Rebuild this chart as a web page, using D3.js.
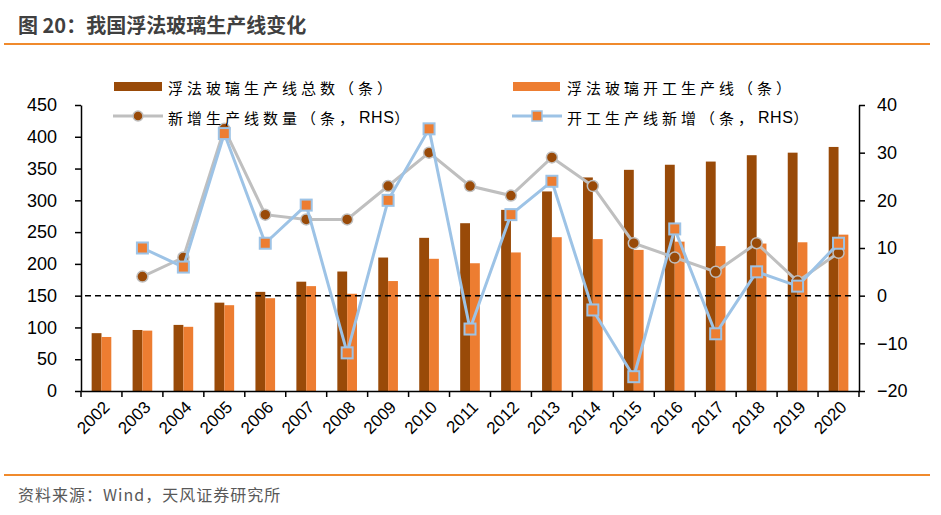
<!DOCTYPE html>
<html><head><meta charset="utf-8">
<script src="https://cdn.jsdelivr.net/npm/d3@7"></script>
<style>body{margin:0;background:#fff;}svg{display:block;}</style>
</head><body>
<svg id="c" width="941" height="515"></svg>
<script>
const years = ["2002","2003","2004","2005","2006","2007","2008","2009","2010","2011","2012","2013","2014","2015","2016","2017","2018","2019","2020"];
const totalLines = [91,96,104,139,156,172,188,210,241,264,285,314,336,348,356,361,371,375,384];
const activeLines = [85,95,101,135,146,165,153,173,208,201,218,242,239,222,235,228,232,234,246];
const newLines = [null,4,8,35,17,16,16,23,30,23,21,29,23,11,8,5,11,3,9];
const newActive = [null,10,6,34,11,19,-12,20,35,-7,17,24,-3,-17,14,-8,5,2,11];
const leftTicks = [0,50,100,150,200,250,300,350,400,450];
const rightTicks = [-20,-10,0,10,20,30,40];

const C = {dark:"#994A08", orange:"#ED7D31", grey:"#BFBFBF", blue:"#9DC3E6", accent:"#F08A2C"};
const svg = d3.select("#c");
const L = 81, R = 859, T = 105, B = 391;
const cjk = "'Noto Sans CJK SC','Noto Sans',sans-serif";
const num = "'Liberation Sans',Arial,sans-serif";

// title
svg.append("text").attr("x",18).attr("y",33).attr("font-family",cjk).attr("font-weight","bold")
  .attr("font-size",20).attr("fill","#404040").text("图 20：我国浮法玻璃生产线变化");
svg.append("line").attr("x1",4).attr("x2",930).attr("y1",44).attr("y2",44).attr("stroke",C.accent).attr("stroke-width",2);
svg.append("line").attr("x1",4).attr("x2",930).attr("y1",475).attr("y2",475).attr("stroke",C.accent).attr("stroke-width",2);
svg.append("text").attr("x",18).attr("y",501).attr("font-family",cjk).attr("font-size",16)
  .attr("letter-spacing",1).attr("fill","#595959").text("资料来源：Wind，天风证券研究所");

const x = d3.scaleBand().domain(years).range([L,R]).padding(0);
const bw = x.bandwidth();
const x1 = d3.scaleBand().domain(["t","a"]).range([bw*0.26,bw*0.74]).padding(0);
const yL = d3.scaleLinear().domain([0,450]).range([B,T]);
const yR = d3.scaleLinear().domain([-20,40]).range([B,T]);

// bars
const g = svg.append("g");
g.selectAll(".bt").data(years).join("rect")
  .attr("x",d=>x(d)+x1("t")).attr("width",x1.bandwidth())
  .attr("y",(d,i)=>yL(totalLines[i])).attr("height",(d,i)=>B-yL(totalLines[i])).attr("fill",C.dark);
g.selectAll(".ba").data(years).join("rect")
  .attr("x",d=>x(d)+x1("a")).attr("width",x1.bandwidth())
  .attr("y",(d,i)=>yL(activeLines[i])).attr("height",(d,i)=>B-yL(activeLines[i])).attr("fill",C.orange);

// dashed zero line
svg.append("line").attr("x1",L+4).attr("x2",R-4).attr("y1",yR(0)).attr("y2",yR(0))
  .attr("stroke","#000").attr("stroke-width",1.5).attr("stroke-dasharray","6,4");

// axes
const axL = svg.append("g").attr("transform",`translate(${L},0)`)
  .call(d3.axisLeft(yL).tickValues(leftTicks).tickSize(6).tickPadding(18).tickSizeOuter(0));
const axR = svg.append("g").attr("transform",`translate(${R},0)`)
  .call(d3.axisRight(yR).tickValues(rightTicks).tickSize(6).tickPadding(12).tickSizeOuter(0));
const axB = svg.append("g").attr("transform",`translate(0,${B})`)
  .call(d3.axisBottom(x).tickSize(0).tickSizeOuter(0));
[axL,axR,axB].forEach(a=>{
  a.select(".domain").attr("stroke","#000").attr("stroke-width",1.5);
  a.selectAll(".tick line").attr("stroke","#000").attr("stroke-width",1.5);
  a.selectAll("text").attr("font-family",num).attr("font-size",18).attr("fill","#000");
});
axB.selectAll(".tick text").attr("font-size",17).attr("text-anchor","end")
  .attr("transform","translate(5,13) rotate(-45)").attr("dy","0.35em").attr("y",0).attr("x",0);
// category boundary ticks
const bounds = years.map(d=>x(d)).concat([R]);
svg.append("g").selectAll("line").data(bounds).join("line")
  .attr("x1",d=>d).attr("x2",d=>d).attr("y1",B).attr("y2",B+6).attr("stroke","#000").attr("stroke-width",1.5);

// lines
const cx = d=>x(d)+bw/2;
const lineGen = arr => d3.line().defined((d,i)=>arr[i]!==null).x(d=>cx(d)).y((d,i)=>yR(arr[i]));
svg.append("path").datum(years).attr("d",lineGen(newLines)).attr("fill","none").attr("stroke",C.grey).attr("stroke-width",3);
svg.append("g").selectAll("circle").data(years.filter((d,i)=>newLines[i]!==null)).join("circle")
  .attr("cx",cx).attr("cy",d=>yR(newLines[years.indexOf(d)])).attr("r",5.5)
  .attr("fill",C.dark).attr("stroke",C.grey).attr("stroke-width",1.5);
svg.append("path").datum(years).attr("d",lineGen(newActive)).attr("fill","none").attr("stroke",C.blue).attr("stroke-width",3);
svg.append("g").selectAll("rect").data(years.filter((d,i)=>newActive[i]!==null)).join("rect")
  .attr("x",d=>cx(d)-5.5).attr("y",d=>yR(newActive[years.indexOf(d)])-5.5).attr("width",11).attr("height",11)
  .attr("fill",C.orange).attr("stroke",C.blue).attr("stroke-width",2);

// legend
const lg = svg.append("g").attr("font-family",cjk).attr("font-size",15).attr("fill","#000");
function legText(xp, yp, parts){
  const t = lg.append("text").attr("x",xp).attr("y",yp).attr("dominant-baseline","central");
  parts.forEach(p=>{
    const s = t.append("tspan").text(p[0]).attr("letter-spacing",p[1]);
    if(p[2]) s.attr("font-family",num).attr("font-size",16).attr("dx",1);
  });
}
lg.append("rect").attr("x",114).attr("y",82).attr("width",48).attr("height",9).attr("fill",C.dark);
legText(168,87,[["浮法玻璃生产线总数（条）",4]]);
lg.append("line").attr("x1",113).attr("x2",163).attr("y1",116).attr("y2",116).attr("stroke",C.grey).attr("stroke-width",3);
lg.append("circle").attr("cx",138).attr("cy",116).attr("r",5).attr("fill",C.dark).attr("stroke",C.grey).attr("stroke-width",1.5);
legText(168,117,[["新增生产线数量（条，",4],["RHS",0.5,true],["）",4]]);
lg.append("rect").attr("x",513).attr("y",82).attr("width",47).attr("height",9).attr("fill",C.orange);
legText(567,87,[["浮法玻璃开工生产线（条）",4]]);
lg.append("line").attr("x1",512).attr("x2",562).attr("y1",116).attr("y2",116).attr("stroke",C.blue).attr("stroke-width",3);
lg.append("rect").attr("x",532).attr("y",111).attr("width",10).attr("height",10).attr("fill",C.orange).attr("stroke",C.blue).attr("stroke-width",1.5);
legText(567,117,[["开工生产线新增（条，",4],["RHS",0.5,true],["）",4]]);
</script>
</body></html>
